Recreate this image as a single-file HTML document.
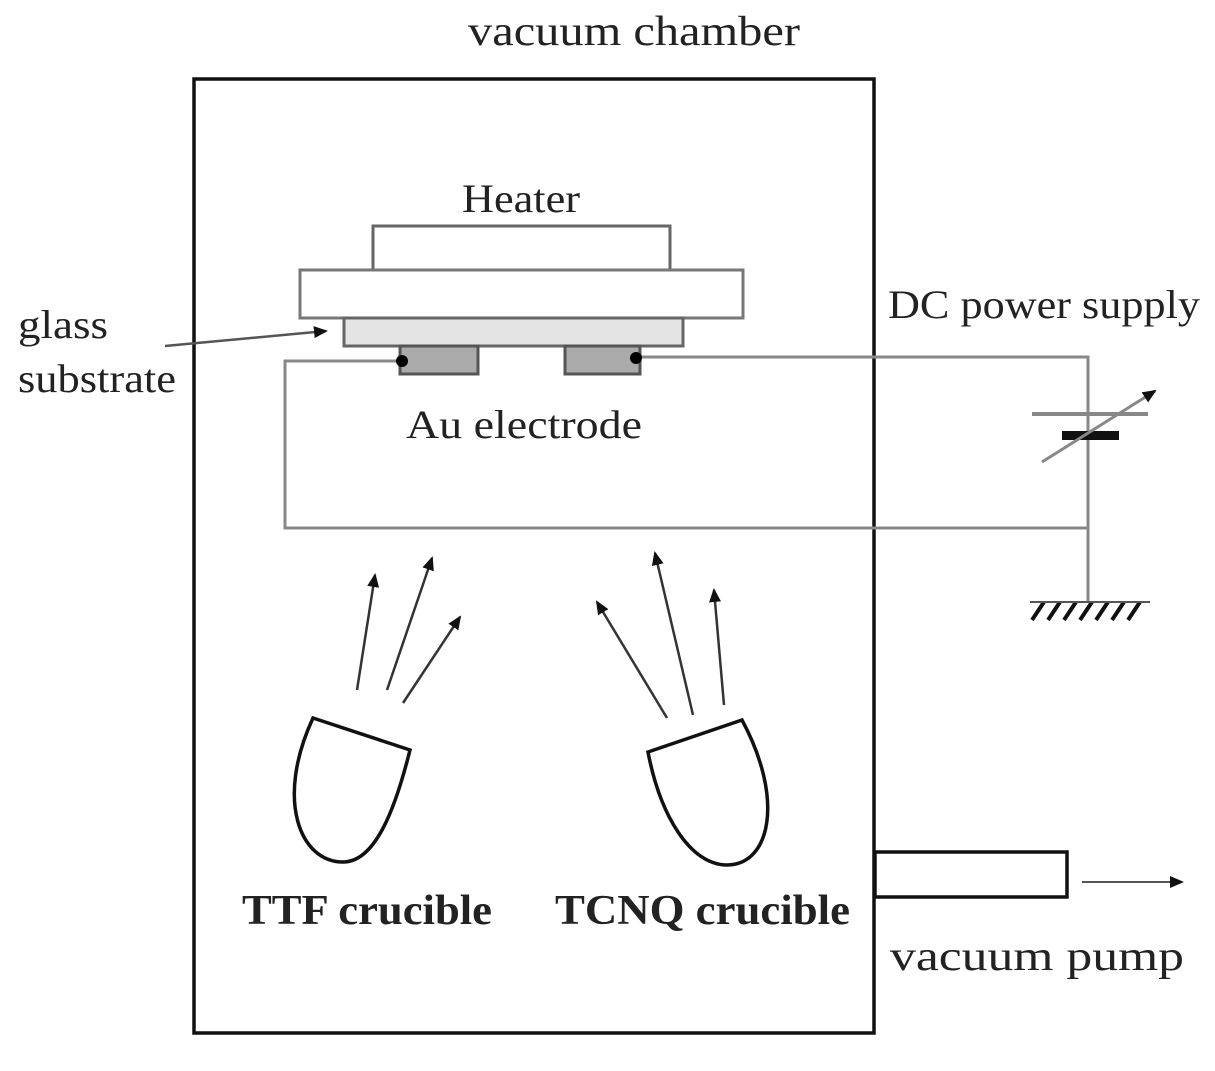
<!DOCTYPE html>
<html><head><meta charset="utf-8"><style>html,body{margin:0;padding:0;background:#fff}svg{display:block}</style></head>
<body>
<svg width="1215" height="1071" viewBox="0 0 1215 1071" xmlns="http://www.w3.org/2000/svg" font-family="Liberation Serif, serif" fill="#222">
<defs><marker id="a" markerWidth="14" markerHeight="12" refX="12" refY="6" orient="auto" markerUnits="userSpaceOnUse"><path d="M0,0 L14,6 L0,12 z" fill="#111"/></marker></defs>
<text x="468" y="45" font-size="42" textLength="332" lengthAdjust="spacingAndGlyphs">vacuum chamber</text>
<rect x="194" y="79" width="680" height="954" fill="none" stroke="#111" stroke-width="3.5"/>
<text x="462" y="212" font-size="40" textLength="118" lengthAdjust="spacingAndGlyphs">Heater</text>
<rect x="373" y="226" width="297" height="44" fill="#fff" stroke="#666" stroke-width="3"/>
<rect x="300" y="270" width="443" height="48" fill="#fff" stroke="#777" stroke-width="3"/>
<rect x="344" y="318" width="339" height="28" fill="#e4e4e4" stroke="#666" stroke-width="3"/>
<rect x="400" y="346" width="78" height="28" fill="#aaa" stroke="#555" stroke-width="3"/>
<rect x="565" y="346" width="75" height="28" fill="#aaa" stroke="#555" stroke-width="3"/>
<g fill="none" stroke="#888" stroke-width="3">
<path d="M401,361 H285 V528 H1088 V357 H637"/>
<path d="M1088,357 V414 M1088,440 V603"/>
</g>
<circle cx="402" cy="361" r="6" fill="#000"/>
<circle cx="636" cy="358" r="6" fill="#000"/>
<line x1="1032" y1="414" x2="1148" y2="414" stroke="#888" stroke-width="4"/>
<rect x="1062" y="431" width="57" height="9" fill="#111"/>
<line x1="1042" y1="462" x2="1155" y2="391" stroke="#888" stroke-width="3" marker-end="url(#a)"/>
<g stroke="#111" stroke-width="4">
<line x1="1032" y1="620" x2="1044" y2="602"/><line x1="1048" y1="620" x2="1060" y2="602"/><line x1="1064" y1="620" x2="1076" y2="602"/><line x1="1080" y1="620" x2="1092" y2="602"/><line x1="1096" y1="620" x2="1108" y2="602"/><line x1="1112" y1="620" x2="1124" y2="602"/><line x1="1128" y1="620" x2="1140" y2="602"/>
</g>
<line x1="1030" y1="602" x2="1150" y2="602" stroke="#555" stroke-width="2"/>
<text x="888" y="318" font-size="40" textLength="312" lengthAdjust="spacingAndGlyphs">DC power supply</text>
<text x="18" y="338" font-size="40" textLength="90" lengthAdjust="spacingAndGlyphs">glass</text>
<text x="18" y="392" font-size="40" textLength="158" lengthAdjust="spacingAndGlyphs">substrate</text>
<line x1="165" y1="346" x2="326" y2="331" stroke="#555" stroke-width="2.5" marker-end="url(#a)"/>
<text x="406" y="438" font-size="40" textLength="236" lengthAdjust="spacingAndGlyphs">Au  electrode</text>
<g stroke="#333" stroke-width="2.5" fill="none" marker-end="url(#a)">
<line x1="357" y1="690" x2="375" y2="575"/>
<line x1="387" y1="690" x2="432" y2="558"/>
<line x1="403" y1="703" x2="460" y2="617"/>
<line x1="667" y1="718" x2="597" y2="602"/>
<line x1="693" y1="715" x2="655" y2="553"/>
<line x1="724" y1="705" x2="714" y2="590"/>
</g>
<path d="M313,718 L410,750 C395,810 375,862 343,862 C300,862 275,800 313,718 Z" fill="none" stroke="#111" stroke-width="3.5"/>
<path d="M648,752 L742,720 C785,800 770,865 727,865 C690,865 660,815 648,752 Z" fill="none" stroke="#111" stroke-width="3.5"/>
<text x="242" y="924" font-size="42" font-weight="bold" textLength="250" lengthAdjust="spacingAndGlyphs">TTF  crucible</text>
<text x="555" y="924" font-size="42" font-weight="bold" textLength="295" lengthAdjust="spacingAndGlyphs">TCNQ  crucible</text>
<rect x="875" y="852" width="192" height="45" fill="#fff" stroke="#111" stroke-width="3.5"/>
<line x1="1082" y1="882" x2="1182" y2="882" stroke="#555" stroke-width="2" marker-end="url(#a)"/>
<text x="890" y="970" font-size="42" textLength="294" lengthAdjust="spacingAndGlyphs">vacuum  pump</text>
</svg>
</body></html>
